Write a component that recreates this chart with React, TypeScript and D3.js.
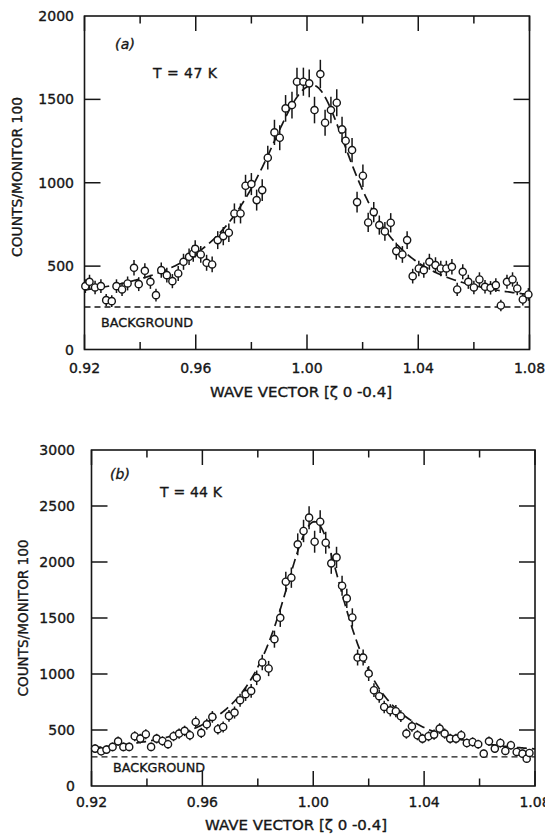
import React from "react";
import * as d3 from "d3";

// ---- Panel (a): T = 47 K ----
const waveA = [
  0.9203, 0.9218, 0.9238, 0.9259, 0.9278, 0.9298, 0.9315, 0.9335, 0.9355, 0.9378,
  0.9395, 0.9417, 0.9437, 0.9457, 0.9476, 0.9496, 0.9516, 0.9537, 0.9556, 0.9576,
  0.9591, 0.9598, 0.9618, 0.9639, 0.9659, 0.9679, 0.9699, 0.9719, 0.9739, 0.9761,
  0.9779, 0.98, 0.9819, 0.9839, 0.9859, 0.9883, 0.9902, 0.9923, 0.9946, 0.9964,
  0.9987, 1.0008, 1.0027, 1.0048, 1.0065, 1.0086, 1.0107, 1.0126, 1.0139, 1.0162,
  1.018, 1.0201, 1.022, 1.024, 1.026, 1.028, 1.0301, 1.0321, 1.0343, 1.036,
  1.038, 1.0402, 1.042, 1.044, 1.0462, 1.0481, 1.0501, 1.0521, 1.054, 1.056,
  1.058, 1.06, 1.062, 1.064, 1.066, 1.0679, 1.0697, 1.0719, 1.0739, 1.0756,
  1.0776, 1.0796,
];
const countsA = [
  380, 406, 372, 380, 296, 290, 380, 360, 396, 490,
  392, 472, 406, 326, 476, 446, 410, 456, 526, 556,
  576, 604, 570, 520, 510, 656, 680, 700, 816, 816,
  982, 992, 896, 956, 1150, 1302, 1270, 1446, 1466, 1606,
  1606, 1596, 1436, 1652, 1360, 1436, 1480, 1320, 1252, 1196,
  884, 1042, 762, 824, 746, 708, 760, 590, 570, 656,
  440, 486, 476, 526, 506, 486, 486, 496, 360, 466,
  406, 372, 420, 376, 370, 386, 264, 406, 420, 366,
  300, 330,
];

// ---- Panel (b): T = 44 K ----
const waveB = [
  0.9213, 0.9235, 0.9254, 0.9276, 0.9296, 0.9315, 0.9336, 0.9356, 0.9376, 0.9396,
  0.9415, 0.9435, 0.9456, 0.9476, 0.9496, 0.9516, 0.9536, 0.9555, 0.9576, 0.9596,
  0.9616, 0.9636, 0.9656, 0.9675, 0.9696, 0.9716, 0.9736, 0.9756, 0.9776, 0.9796,
  0.9816, 0.9839, 0.986, 0.9881, 0.9901, 0.9921, 0.9944, 0.9965, 0.9985, 1.0005,
  1.0025, 1.0045, 1.0065, 1.0084, 1.0104, 1.0121, 1.0141, 1.016, 1.018, 1.02,
  1.0219, 1.0238, 1.0256, 1.0278, 1.0298, 1.0316, 1.0336, 1.0356, 1.0376, 1.0394,
  1.0416, 1.0436, 1.0456, 1.0474, 1.0494, 1.0515, 1.0534, 1.0554, 1.0575, 1.0595,
  1.0615, 1.0634, 1.0655, 1.0675, 1.0693, 1.0713, 1.0734, 1.0755, 1.077, 1.078,
];
const countsB = [
  334, 310, 325, 349, 399, 349, 349, 444, 423, 462,
  349, 423, 402, 373, 444, 468, 492, 453, 572, 474,
  551, 617, 507, 527, 626, 656, 766, 820, 849, 966,
  1103, 1049, 1311, 1502, 1824, 1860, 2158, 2277, 2396, 2181,
  2360, 2172, 1988, 2041, 1788, 1675, 1505, 1147, 1147, 1004,
  855, 802, 706, 676, 668, 623, 468, 533, 453, 423,
  444, 459, 513, 468, 423, 423, 453, 384, 393, 373,
  289, 399, 334, 384, 313, 364, 304, 289, 244, 295,
];

// Axes
const xTicks = [0.92, 0.94, 0.96, 0.98, 1.0, 1.02, 1.04, 1.06, 1.08];
const xMajor = [0.92, 0.96, 1.0, 1.04, 1.08];
const xTickLabels = ["0.92", "0.96", "1.00", "1.04", "1.08"];
const yTicksA = [0, 500, 1000, 1500, 2000];
const yTicksB = [0, 500, 1000, 1500, 2000, 2500, 3000];

// Flat background level and peak fit (split-width Lorentzian) for each panel
const backgroundA = 255;
const backgroundB = 260;
const fitA = { amp: 1330, center: 1.002, widthLeft: 0.0236, widthRight: 0.019 };
const fitB = { amp: 2100, center: 1.0005, widthLeft: 0.0161, widthRight: 0.0149 };

// counting-statistics error bar scale
const errScale = 2.1;

const FONT = "DejaVu Sans";
const INK = "#161616";
// slight outline so the lettering reads as heavy as the printed figure
const textInk = { fill: INK, stroke: INK, strokeWidth: 0.35 };

type Fit = { amp: number; center: number; widthLeft: number; widthRight: number };

function lorentz(x: number, p: Fit, bg: number) {
  const w = x < p.center ? p.widthLeft : p.widthRight;
  const d = (x - p.center) / w;
  return bg + p.amp / (1 + d * d);
}

type PanelProps = {
  wave: number[];
  counts: number[];
  fit: Fit;
  bg: number;
  yTicks: number[];
  left: number;
  right: number;
  top: number;
  bottom: number;
  tag: string;
  temp: string;
  tagPos: [number, number];
  tempPos: [number, number, number];
  bgLabelPos: [number, number];
  xLabelY: number;
  xTitle: [number, number];
  yTitle: [number, number, number];
  yLabelRight: number;
};

function Panel(p: PanelProps) {
  const x = d3.scaleLinear().domain([0.92, 1.08]).range([p.left, p.right]);
  const yMax = p.yTicks[p.yTicks.length - 1];
  const y = d3.scaleLinear().domain([0, yMax]).range([p.bottom, p.top]);

  const samples = d3.range(0.92, 1.08001, 0.0005);
  const fitPath =
    d3
      .line<number>()
      .x((d) => x(d))
      .y((d) => y(lorentz(d, p.fit, p.bg)))(samples) || "";

  const majorLen = 15;
  const minorLen = 7.5;
  const yTickLen = 16;

  return (
    <g>
      {/* frame */}
      <rect
        x={p.left}
        y={p.top}
        width={p.right - p.left}
        height={p.bottom - p.top}
        fill="none"
        stroke={INK}
        strokeWidth={1.6}
      />
      {/* x ticks, bottom and top, pointing inward */}
      {xTicks.map((t) => {
        const len = xMajor.some((m) => Math.abs(m - t) < 1e-6) ? majorLen : minorLen;
        return (
          <g key={"xt" + t}>
            <line x1={x(t)} x2={x(t)} y1={p.bottom} y2={p.bottom - len} stroke={INK} strokeWidth={1.5} />
            <line x1={x(t)} x2={x(t)} y1={p.top} y2={p.top + len} stroke={INK} strokeWidth={1.5} />
          </g>
        );
      })}
      {/* y ticks, left and right */}
      {p.yTicks.slice(1, -1).map((t) => (
        <g key={"yt" + t}>
          <line x1={p.left} x2={p.left + yTickLen} y1={y(t)} y2={y(t)} stroke={INK} strokeWidth={1.5} />
          <line x1={p.right} x2={p.right - yTickLen} y1={y(t)} y2={y(t)} stroke={INK} strokeWidth={1.5} />
        </g>
      ))}
      {/* x tick labels */}
      {xMajor.map((t, i) => (
        <text
          key={"xl" + t}
          x={x(t)}
          y={p.xLabelY}
          textAnchor="middle"
          fontFamily={FONT}
          fontSize={14}
          {...textInk}
        >
          {xTickLabels[i]}
        </text>
      ))}
      {/* y tick labels */}
      {p.yTicks.map((t) => (
        <text
          key={"yl" + t}
          x={p.yLabelRight}
          y={y(t)}
          dy="0.36em"
          textAnchor="end"
          fontFamily={FONT}
          fontSize={14}
          {...textInk}
        >
          {String(t)}
        </text>
      ))}
      {/* axis titles */}
      <text
        x={p.xTitle[0]}
        y={p.xTitle[1]}
        textAnchor="middle"
        fontFamily={FONT}
        fontSize={14}
        {...textInk}
        textLength={182}
        lengthAdjust="spacingAndGlyphs"
      >
        {"WAVE VECTOR  [ζ  0  -0.4]"}
      </text>
      <text
        transform={`translate(${p.yTitle[0]},${p.yTitle[1]}) rotate(-90)`}
        textAnchor="middle"
        fontFamily={FONT}
        fontSize={14}
        {...textInk}
        textLength={p.yTitle[2]}
        lengthAdjust="spacingAndGlyphs"
      >
        {"COUNTS/MONITOR  100"}
      </text>
      {/* background level */}
      <line
        x1={p.left}
        x2={p.right}
        y1={y(p.bg)}
        y2={y(p.bg)}
        stroke={INK}
        strokeWidth={1.4}
        strokeDasharray="6,4"
      />
      <text
        x={p.bgLabelPos[0]}
        y={p.bgLabelPos[1]}
        fontFamily={FONT}
        fontSize={13}
        {...textInk}
        textLength={92}
        lengthAdjust="spacingAndGlyphs"
      >
        BACKGROUND
      </text>
      {/* panel tag and temperature */}
      <text
        x={p.tagPos[0]}
        y={p.tagPos[1]}
        fontFamily={FONT}
        fontSize={14}
        fontStyle="italic"
        {...textInk}
        textLength={20}
        lengthAdjust="spacing"
      >
        {p.tag}
      </text>
      <text
        x={p.tempPos[0]}
        y={p.tempPos[1]}
        fontFamily={FONT}
        fontSize={14}
        {...textInk}
        textLength={p.tempPos[2]}
        lengthAdjust="spacing"
      >
        {p.temp}
      </text>
      {/* fit curve */}
      <path d={fitPath} fill="none" stroke={INK} strokeWidth={1.7} strokeDasharray="10,5" />
      {/* data with error bars */}
      {p.wave.map((w, i) => {
        const c = p.counts[i];
        const e = errScale * Math.sqrt(c);
        return (
          <g key={"pt" + i}>
            <line x1={x(w)} x2={x(w)} y1={y(c + e)} y2={y(c - e)} stroke={INK} strokeWidth={1.5} />
            <circle cx={x(w)} cy={y(c)} r={3.6} fill="#fff" stroke={INK} strokeWidth={1.4} />
          </g>
        );
      })}
    </g>
  );
}

export default function App() {
  return (
    <svg
      width={545}
      height={836}
      viewBox="0 0 545 836"
      style={{ position: "absolute", left: 0, top: 0, background: "#fff" }}
    >
      <rect x={0} y={0} width={545} height={836} fill="#fff" />
      <Panel
        wave={waveA}
        counts={countsA}
        fit={fitA}
        bg={backgroundA}
        yTicks={yTicksA}
        left={84.5}
        right={529.5}
        top={16}
        bottom={349.5}
        tag="(a)"
        temp="T = 47 K"
        tagPos={[115, 49]}
        tempPos={[153, 78, 64]}
        bgLabelPos={[101, 327]}
        xLabelY={373}
        xTitle={[301, 397]}
        yTitle={[22, 177, 160]}
        yLabelRight={74}
      />
      <Panel
        wave={waveB}
        counts={countsB}
        fit={fitB}
        bg={backgroundB}
        yTicks={yTicksB}
        left={91.5}
        right={535}
        top={450}
        bottom={786}
        tag="(b)"
        temp="T = 44 K"
        tagPos={[110, 479]}
        tempPos={[160, 497, 62]}
        bgLabelPos={[113, 772]}
        xLabelY={807}
        xTitle={[296, 830]}
        yTitle={[28, 618, 157]}
        yLabelRight={75}
      />
    </svg>
  );
}
